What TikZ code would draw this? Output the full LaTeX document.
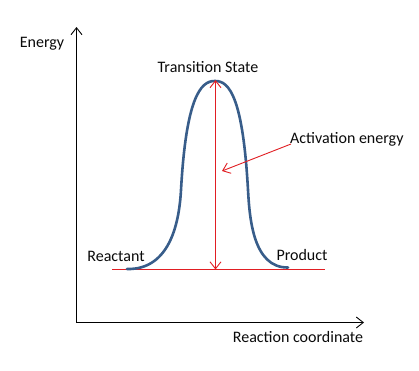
\documentclass[tikz,border=0pt]{standalone}
\usepackage{fontspec}
\setmainfont{Carlito}
\usetikzlibrary{arrows.meta}
\definecolor{curveblue}{RGB}{56,93,138}
\definecolor{arrowred}{RGB}{225,30,35}
\definecolor{txt}{RGB}{10,10,10}
\begin{document}
\begin{tikzpicture}[x=1pt,y=-1pt,
  lbl/.style={inner sep=0pt,text=txt,font=\fontsize{16}{19}\selectfont},
  axis/.style={black,line width=0.9pt,-{Straight Barb[length=7pt,width=11pt,line width=0.9pt]}},
  redarrow/.style={arrowred,line width=0.9pt},
  redtip/.tip={Straight Barb[length=7pt,width=11pt,line width=0.9pt]}]
\useasboundingbox[fill=white] (0,0) rectangle (419,370);
% axes
\coordinate (O) at (76.5,322.5);
\coordinate (ytop) at (76.5,27);
\coordinate (xend) at (364,322.5);
\draw[axis] (O) -- (ytop);
\draw[axis] (O) -- (xend);
% baseline
\coordinate (bl) at (112,269.5);
\coordinate (br) at (325,269.5);
\draw[redarrow] (bl) -- (br);
% energy curve
\coordinate (cstart) at (127,269);
\coordinate (linfl) at (181,190);
\coordinate (cpeak) at (215,81);
\coordinate (rinfl) at (248,190);
\coordinate (cend) at (288,267.5);
\draw[curveblue,line width=2.6pt,line cap=round]
  (cstart) .. controls (172,270) and (179.4,218) .. (linfl)
  .. controls (186,100) and (200,80.5) .. (cpeak)
  .. controls (230,80.5) and (243,100) .. (rinfl)
  .. controls (249.6,218) and (253,268) .. (cend);
% activation energy arrow
\coordinate (peak) at (215.5,80);
\coordinate (base) at (215.5,269.5);
\draw[redarrow,redtip-redtip] (peak) -- (base);
% labels
\node[lbl] (energy) at (42,44) {Energy};
\node[lbl] (ts) at (208,67) {Transition State};
\node[lbl,anchor=west] (act) at (290,139) {Activation energy};
\node[lbl] (react) at (116,256) {Reactant};
\node[lbl] (prod) at (302,255) {Product};
\node[lbl] (rc) at (298,337) {Reaction coordinate};
\coordinate (acttip) at (222,171);
\coordinate (actstart) at (291,144);
\draw[redarrow,-redtip] (actstart) -- (acttip);
\end{tikzpicture}
\end{document}
